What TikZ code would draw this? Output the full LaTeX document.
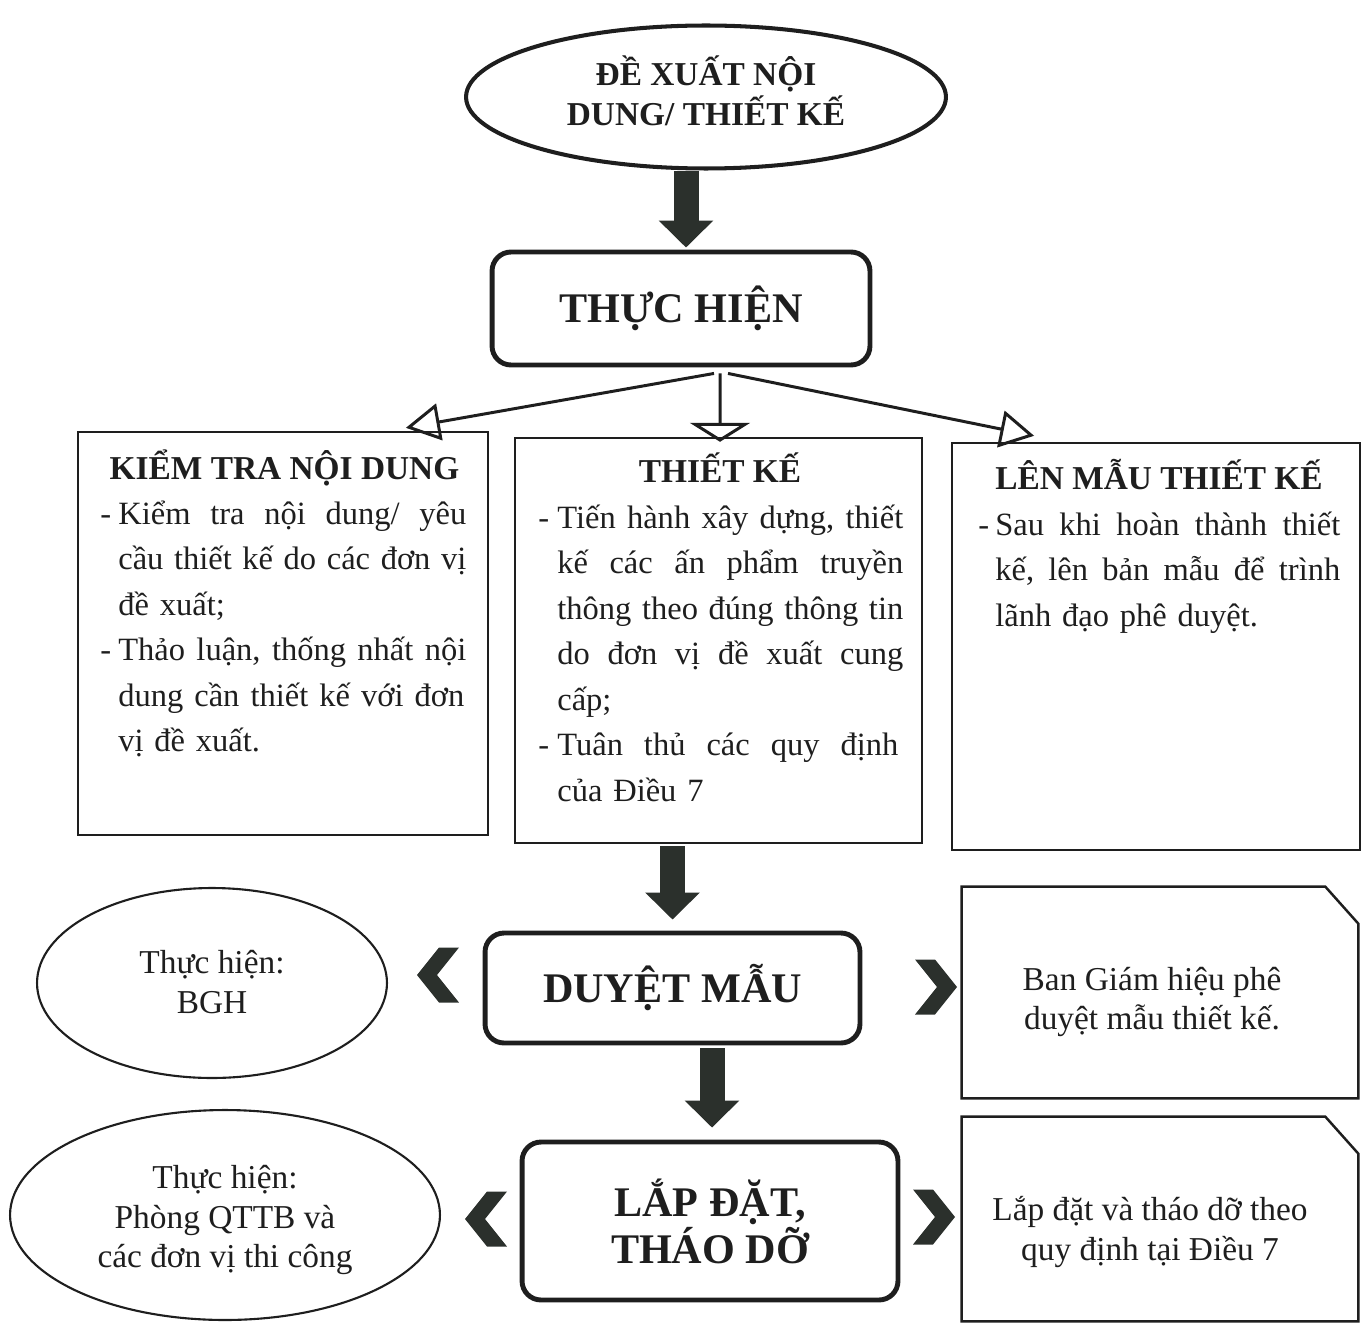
\documentclass[tikz,border=0pt]{standalone}
\usepackage{fontspec}
\setmainfont{Liberation Serif}
\usetikzlibrary{arrows.meta,shapes.geometric,calc}
\definecolor{ink}{HTML}{1E1E1E}
\definecolor{arrowc}{HTML}{2B302C}
\newlength{\bind}
\newcommand{\ditem}[2]{\makebox[\bind][l]{-}\hbox to #1{#2}}
\newcommand{\citem}[2]{\hspace*{\bind}\hbox to #1{#2}}
\newcommand{\pitem}[1]{\hspace*{\bind}#1}
\newcommand{\bodyfont}{\fontsize{18.5}{25.9}\selectfont}
\newcommand{\titlefont}{\fontsize{19}{22.7}\selectfont\bfseries}
\newcommand{\bigfont}{\fontsize{24}{26.7}\selectfont\bfseries}
\newcommand{\ellfont}{\fontsize{19}{22.7}\selectfont}
\begin{document}
\begin{tikzpicture}[x=0.02cm,y=-0.02cm,
  every node/.style={text=ink},
  startell/.style={ellipse, draw=ink, line width=2.3pt, minimum width=9.6cm, minimum height=2.86cm, inner sep=0pt},
  starttxt/.style={inner sep=0pt, align=center, font=\titlefont},
  bigbox/.style={rectangle, rounded corners=0.38cm, draw=ink, line width=2.8pt, inner sep=0pt, align=center, font=\bigfont},
  infobox/.style={rectangle, draw=ink, line width=1.4pt, inner sep=0pt},
  ttl/.style={anchor=base, inner sep=0pt, font=\titlefont},
  body/.style={anchor=north west, inner sep=0pt, align=left, font=\bodyfont},
  roleell/.style={ellipse, draw=ink, line width=1.2pt, inner sep=0pt},
  roletxt/.style={inner sep=0pt, align=center, font=\ellfont},
  notebox/.style={rectangle, inner sep=0pt},
  noteline/.style={draw=ink, line width=1.4pt},
  notetxt/.style={inner sep=0pt, align=center, font=\ellfont},
  fat/.style={draw=arrowc, line width=0.5cm, -{Triangle[width=1.06cm,length=0.54cm]}},
  thin/.style={draw=ink, line width=1.7pt},
  sidetip/.style={-{Triangle[open,width=0.74cm,length=0.68cm,line width=1.7pt]}},
  midtip/.style={-{Triangle[open,width=1.2cm,length=0.38cm,line width=1.7pt]}},
  chevL/.pic={\fill[arrowc] (0,0) -- (22,-27.5) -- (42,-27.5) -- (20,0) -- (42,27.5) -- (22,27.5) -- cycle;},
  chevR/.pic={\fill[arrowc] (0,0) -- (-22,-27.5) -- (-42,-27.5) -- (-20,0) -- (-42,27.5) -- (-22,27.5) -- cycle;},
]
\useasboundingbox (0,0) rectangle (1371,1324);

% top
\node[startell] (top) at (706,97) {};
\node[starttxt] (toptxt) at (706,91) {ĐỀ XUẤT NỘI\\DUNG/ THIẾT KẾ};
\node[bigbox, minimum width=7.56cm, minimum height=2.26cm] (thuc) at (681,308.5) {THỰC HIỆN};

% three boxes
\node[infobox, minimum width=8.2cm, minimum height=8.06cm] (kt) at (283,633.5) {};
\node[infobox, minimum width=8.14cm, minimum height=8.1cm] (tk) at (718.5,640.5) {};
\node[infobox, minimum width=8.16cm, minimum height=8.14cm] (lm) at (1156,646.5) {};

\node[ttl] (ktt) at (284.5,479) {KIỂM TRA NỘI DUNG};
\node[ttl] (tkt) at (720,482) {THIẾT KẾ};
\node[ttl] (lmt) at (1159,489) {LÊN MẪU THIẾT KẾ};

\node[body, text width=7.32cm] (ktb) at (100,492) {\setlength{\bind}{0.36cm}\noindent\strut\ditem{6.96cm}{Kiểm\hfill tra\hfill nội\hfill dung/\hfill yêu}\\ \citem{6.96cm}{cầu\hfill thiết\hfill kế\hfill do\hfill các\hfill đơn\hfill vị}\\ \pitem{đề xuất;}\\ \ditem{6.96cm}{Thảo\hfill luận,\hfill thống\hfill nhất\hfill nội}\\ \citem{6.92cm}{dung\hfill cần\hfill thiết\hfill kế\hfill với\hfill đơn}\\ \pitem{vị đề xuất.}};

\node[body, text width=7.3cm] (tkb) at (538,496) {\setlength{\bind}{0.38cm}\noindent\strut\ditem{6.92cm}{Tiến\hfill hành\hfill xây\hfill dựng,\hfill thiết}\\ \citem{6.92cm}{kế\hfill các\hfill ấn\hfill phẩm\hfill truyền}\\ \citem{6.92cm}{thông\hfill theo\hfill đúng\hfill thông\hfill tin}\\ \citem{6.92cm}{do\hfill đơn\hfill vị\hfill đề\hfill xuất\hfill cung}\\ \pitem{cấp;}\\ \ditem{6.82cm}{Tuân\hfill thủ\hfill các\hfill quy\hfill định}\\ \pitem{của Điều 7}};

\node[body, text width=7.24cm] (lmb) at (978,503) {\setlength{\bind}{0.34cm}\noindent\strut\ditem{6.9cm}{Sau\hfill khi\hfill hoàn\hfill thành\hfill thiết}\\ \citem{6.9cm}{kế,\hfill lên\hfill bản\hfill mẫu\hfill để\hfill trình}\\ \pitem{lãnh đạo phê duyệt.}};

% lower part
\node[bigbox, minimum width=7.5cm, minimum height=2.2cm] (duyet) at (672.5,988) {DUYỆT MẪU};
\node[bigbox, minimum width=7.52cm, minimum height=3.16cm] (lap) at (710,1221) {LẮP ĐẶT,\\THÁO DỠ};

\node[roleell, minimum width=7cm, minimum height=3.8cm] (bgh) at (212,983) {};
\node[roletxt] (bghtxt) at (212,982) {Thực hiện:\\BGH};
\node[roleell, minimum width=8.6cm, minimum height=4.2cm] (qttb) at (225,1215) {};
\node[roletxt] (qttbtxt) at (225,1220) {Thực hiện:\\Phòng QTTB và\\các đơn vị thi công};

\node[notebox, minimum width=7.92cm, minimum height=4.22cm] (n1) at (1160,992.5) {};
\draw[noteline] (n1.north west) -- ([xshift=-0.66cm]n1.north east) -- ([yshift=-0.74cm]n1.north east) -- (n1.south east) -- (n1.south west) -- cycle;
\node[notetxt] (n1t) at (1152,1002) {Ban Giám hiệu phê\\duyệt mẫu thiết kế.};

\node[notebox, minimum width=7.92cm, minimum height=4.08cm] (n2) at (1160,1219) {};
\draw[noteline] (n2.north west) -- ([xshift=-0.66cm]n2.north east) -- ([yshift=-0.74cm]n2.north east) -- (n2.south east) -- (n2.south west) -- cycle;
\node[notetxt] (n2t) at (1150,1232) {Lắp đặt và tháo dỡ theo\\quy định tại Điều 7};

% chevrons
\pic (cl1) at (417,975) {chevL};
\pic (cr1) at (957,987) {chevR};
\pic (cl2) at (465,1219) {chevL};
\pic (cr2) at (955,1217) {chevR};

% fat arrows
\draw[fat] ($(top.south -| thuc.north)+(5,0)$) -- ($(thuc.north)+(5,-2)$);
\draw[fat] ($(tk.south -| duyet.north)+(0,2)$) -- ($(duyet.north)+(0,-11)$);
\draw[fat] ($(duyet.south -| lap.north)+(2,3)$) -- ($(lap.north)+(2,-12)$);

% thin arrows
\coordinate (fork) at ($(thuc.south)+(39,6)$);
\draw[thin, sidetip] ($(fork)+(-6,0)$) -- ($(kt.north west)!0.798!(kt.north east)+(0,-3)$);
\draw[thin, midtip] (fork) -- ($(tk.north)+(1.5,5)$);
\draw[thin, sidetip] ($(fork)+(8,0)$) -- ($(lm.north west)!0.203!(lm.north east)+(0,-6)$);
\end{tikzpicture}
\end{document}
